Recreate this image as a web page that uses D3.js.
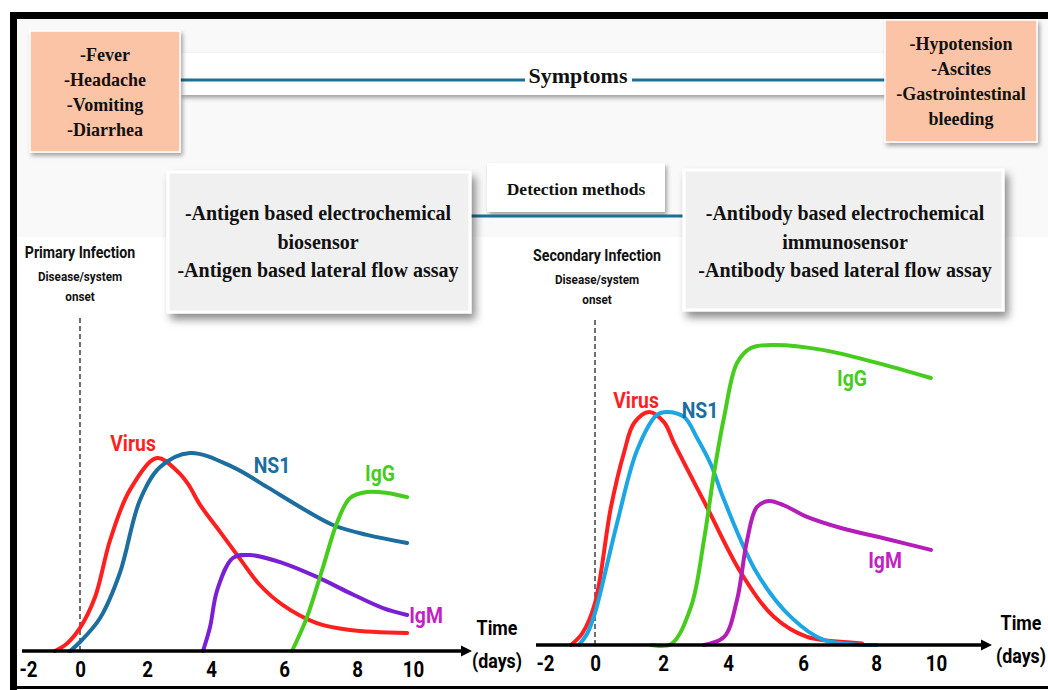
<!DOCTYPE html>
<html>
<head>
<meta charset="utf-8">
<script src="https://cdn.jsdelivr.net/npm/d3@7"></script>
<style>
  body { margin: 0; background: #fff; }
  svg { display: block; }
  .serif { font-family: 'Liberation Serif', 'Times New Roman', serif; font-weight: bold; fill: #111; }
  .narrow { font-family: Roboto, 'Noto Sans', sans-serif; font-weight: bold; }
</style>
</head>
<body>
<svg width="1048" height="690"></svg>
<script>
// ---- data (day, relative level 0-100) ----
let dayTicks = [-2, 0, 2, 4, 6, 8, 10];

let earlySymptoms = ["-Fever", "-Headache", "-Vomiting", "-Diarrhea"];
let lateSymptoms = ["-Hypotension", "-Ascites", "-Gastrointestinal", "bleeding"];
let antigenMethods = ["-Antigen based electrochemical", "biosensor", "-Antigen based lateral flow assay"];
let antibodyMethods = ["-Antibody based electrochemical", "immunosensor", "-Antibody based lateral flow assay"];

let primaryVirus = [[-0.96, 0], [-0.5, 2.5], [0, 7.7], [0.45, 18], [0.9, 37], [1.49, 53.7], [2.31, 64.3],
    [2.94, 60], [3.28, 55.7], [3.66, 48.7], [4.25, 39.7], [4.82, 30.3], [5.34, 22], [5.97, 15.3],
    [6.9, 9.3], [7.81, 7], [9.79, 6]];
let primaryNS1 = [[-0.38, 0], [0, 3], [0.6, 11], [1.19, 26], [1.79, 50.3], [2.41, 61.3], [3.34, 66],
    [4.6, 61.3], [5.53, 54.7], [6.44, 48], [7.34, 42], [8.36, 38.7], [9.79, 36]];
let primaryIgM = [[3.75, 0], [3.97, 8], [4.17, 20.3], [4.6, 31], [5.07, 32], [5.97, 29.3], [6.9, 24.7],
    [7.81, 19.3], [8.93, 14.3], [9.79, 12]];
let primaryIgG = [[6.22, 0], [6.63, 11.3], [7.07, 28], [7.45, 42.7], [7.81, 51], [8.36, 53], [9.07, 52.7], [9.79, 51.3]];

let secondaryVirus = [[-0.96, 0], [-0.5, 4], [0, 14], [0.47, 46], [0.85, 64], [1.15, 74], [1.59, 77.7],
    [2.03, 74.3], [2.34, 67.3], [3.35, 46], [4.35, 24], [5.23, 9.3], [6.11, 2.7], [7.48, 0.7], [7.62, 0.5]];
let secondaryNS1 = [[-0.64, 0], [-0.3, 4], [0, 10.7], [0.65, 40.7], [1.24, 65], [1.82, 76.7], [2.12, 77.7],
    [2.65, 76], [3.05, 69], [3.48, 60], [3.88, 48.3], [4.77, 24], [5.68, 9.3], [6.57, 1.7], [8.03, 0]];
let secondaryIgG = [[1.65, 0], [2.25, 0.3], [2.86, 12.7], [3.26, 35], [3.57, 57.3], [3.88, 76], [4.24, 94],
    [4.61, 99], [5.23, 100], [6.57, 98.3], [7.95, 94.3], [9.83, 89]];
let secondaryIgM = [[3.26, 0], [3.88, 2.7], [4.24, 15], [4.51, 35], [4.77, 46], [5.09, 48], [5.5, 46.5],
    [6.11, 42.7], [7.04, 39], [8.5, 35], [9.83, 31.7]];

// ---- drawing ----
let svg = d3.select("svg");

let defs = svg.append("defs");
let sh = defs.append("filter").attr("id", "shadow")
    .attr("x", "-10%").attr("y", "-10%").attr("width", "130%").attr("height", "140%");
sh.append("feDropShadow").attr("dx", 4).attr("dy", 6).attr("stdDeviation", 4)
    .attr("flood-color", "#000").attr("flood-opacity", 0.45);
let shs = defs.append("filter").attr("id", "shadowSmall")
    .attr("x", "-10%").attr("y", "-10%").attr("width", "130%").attr("height", "150%");
shs.append("feDropShadow").attr("dx", 2).attr("dy", 3).attr("stdDeviation", 2)
    .attr("flood-color", "#000").attr("flood-opacity", 0.35);

defs.append("marker").attr("id", "arrow")
    .attr("viewBox", "0 0 10 10").attr("refX", 1).attr("refY", 5)
    .attr("markerWidth", 3.2).attr("markerHeight", 3.2).attr("orient", "auto")
    .attr("markerUnits", "strokeWidth")
    .append("path").attr("d", "M0,0 L10,5 L0,10 z").attr("fill", "#000");

// background of the top band
svg.append("rect").attr("x", 17).attr("y", 19).attr("width", 1031).attr("height", 218).attr("fill", "#f9f9f9");

// frame
svg.append("rect").attr("x", 10).attr("y", 12).attr("width", 1038).attr("height", 7).attr("fill", "#000");
svg.append("rect").attr("x", 10).attr("y", 12).attr("width", 7).attr("height", 678).attr("fill", "#000");
svg.append("rect").attr("x", 10).attr("y", 686).attr("width", 1038).attr("height", 3).attr("fill", "#000");

// symptoms band
svg.append("rect").attr("x", 180).attr("y", 53).attr("width", 705).attr("height", 42)
    .attr("fill", "#fff").attr("filter", "url(#shadowSmall)");
svg.append("line").attr("x1", 180).attr("x2", 525).attr("y1", 80).attr("y2", 80)
    .attr("stroke", "#1f6e96").attr("stroke-width", 3);
svg.append("line").attr("x1", 632).attr("x2", 885).attr("y1", 80).attr("y2", 80)
    .attr("stroke", "#1f6e96").attr("stroke-width", 3);
svg.append("text").attr("class", "serif").attr("x", 578).attr("y", 83)
    .attr("text-anchor", "middle").attr("font-size", 22).text("Symptoms");

let textBlock = function (lines, cx, firstY, step, size) {
    svg.append("g").selectAll("text").data(lines).enter().append("text")
        .attr("class", "serif")
        .attr("x", cx)
        .attr("y", function (d, i) { return firstY + i * step; })
        .attr("text-anchor", "middle")
        .attr("font-size", size)
        .text(function (d) { return d; });
};

// narrow sans text, squeezed horizontally like the condensed face of the original
let narrowText = function (parent, txt, x, y, size, sx, color) {
    return parent.append("text").attr("class", "narrow")
        .attr("transform", "translate(" + x + "," + y + ") scale(" + sx + ",1)")
        .attr("text-anchor", "middle")
        .attr("font-size", size)
        .attr("fill", color)
        .text(txt);
};

// symptom boxes
svg.append("rect").attr("x", 30).attr("y", 31).attr("width", 150).attr("height", 121)
    .attr("fill", "#fcc4a7").attr("stroke", "#fff").attr("stroke-width", 1.5).attr("filter", "url(#shadowSmall)");
textBlock(earlySymptoms, 105, 61, 25, 18);
svg.append("rect").attr("x", 885).attr("y", 20).attr("width", 152).attr("height", 122)
    .attr("fill", "#fcc4a7").attr("stroke", "#fff").attr("stroke-width", 1.5).attr("filter", "url(#shadowSmall)");
textBlock(lateSymptoms, 961, 50, 25, 18);

// detection methods
svg.append("rect").attr("x", 487).attr("y", 163).attr("width", 178).attr("height", 49)
    .attr("fill", "#fff").attr("filter", "url(#shadowSmall)");
svg.append("line").attr("x1", 470).attr("x2", 684).attr("y1", 216).attr("y2", 216)
    .attr("stroke", "#1f6e96").attr("stroke-width", 3);
svg.append("text").attr("class", "serif").attr("x", 576).attr("y", 195)
    .attr("text-anchor", "middle").attr("font-size", 17.5).text("Detection methods");

// chart area background
svg.append("rect").attr("x", 17).attr("y", 237).attr("width", 1031).attr("height", 449).attr("fill", "#fff");

// method boxes
svg.append("rect").attr("x", 168).attr("y", 172).attr("width", 302).attr("height", 140)
    .attr("fill", "#f0f0f0").attr("stroke", "#fff").attr("stroke-width", 3).attr("filter", "url(#shadow)");
textBlock(antigenMethods, 318, 220, 28.5, 20);
svg.append("rect").attr("x", 684).attr("y", 170).attr("width", 319).attr("height", 140)
    .attr("fill", "#f0f0f0").attr("stroke", "#fff").attr("stroke-width", 3).attr("filter", "url(#shadow)");
textBlock(antibodyMethods, 845, 220, 28.5, 20);

// ---- the two infection panels ----
let panels = [
    {
        title: "Primary Infection", titleX: 80, titleY: 258,
        xr: [28, 80, 147, 211, 284, 357, 413], base: 651, top: 351,
        axisX: [22, 462], dashTop: 318, timeX: 497, timeY: 635,
        series: [
            {data: primaryVirus, color: "#ff1f1f"},
            {data: primaryNS1, color: "#1b6e9e"},
            {data: primaryIgM, color: "#7a1fd4"},
            {data: primaryIgG, color: "#46cc1c"}
        ],
        labels: [
            {text: "Virus", x: 133, y: 451, color: "#ff1f1f"},
            {text: "NS1", x: 272, y: 473, color: "#1b6e9e"},
            {text: "IgG", x: 380, y: 481, color: "#46cc1c"},
            {text: "IgM", x: 426, y: 623, color: "#c41fc4"}
        ]
    },
    {
        title: "Secondary Infection", titleX: 597, titleY: 261,
        xr: [545, 595, 663, 728, 803, 876, 936], base: 645, top: 345,
        axisX: [536, 982], dashTop: 320, timeX: 1021, timeY: 630,
        series: [
            {data: secondaryVirus, color: "#ff1f1f"},
            {data: secondaryNS1, color: "#1da6e4"},
            {data: secondaryIgG, color: "#46cc1c"},
            {data: secondaryIgM, color: "#b31eb8"}
        ],
        labels: [
            {text: "Virus", x: 636, y: 408, color: "#ff1f1f"},
            {text: "NS1", x: 700, y: 418, color: "#1b6e9e"},
            {text: "IgG", x: 852, y: 386, color: "#46cc1c"},
            {text: "IgM", x: 885, y: 568, color: "#c41fc4"}
        ]
    }
];

panels.forEach(function (p) {
    let x = d3.scaleLinear().domain(dayTicks).range(p.xr);
    let y = d3.scaleLinear().domain([0, 100]).range([p.base, p.top]);
    let g = svg.append("g");

    // headings
    narrowText(g, p.title, p.titleX, p.titleY, 16.5, 0.86, "#111");
    narrowText(g, "Disease/system", p.titleX, p.titleY + 23, 13, 0.9, "#111");
    narrowText(g, "onset", p.titleX, p.titleY + 43, 13, 0.9, "#111");

    // onset line
    g.append("line").attr("x1", x(0)).attr("x2", x(0)).attr("y1", p.dashTop).attr("y2", p.base)
        .attr("stroke", "#222").attr("stroke-width", 1.3).attr("stroke-dasharray", "5,3");

    // curves
    let line = d3.line()
        .x(function (d) { return x(d[0]); })
        .y(function (d) { return y(d[1]); })
        .curve(d3.curveCatmullRom.alpha(0.5));
    g.selectAll(".curve").data(p.series).enter().append("path")
        .attr("class", "curve")
        .attr("d", function (d) { return line(d.data); })
        .attr("fill", "none")
        .attr("stroke", function (d) { return d.color; })
        .attr("stroke-width", 4)
        .attr("stroke-linecap", "round");

    // time axis with arrow
    g.append("line").attr("x1", p.axisX[0]).attr("x2", p.axisX[1]).attr("y1", p.base).attr("y2", p.base)
        .attr("stroke", "#000").attr("stroke-width", 3.5).attr("marker-end", "url(#arrow)");
    let ax = g.append("g").attr("transform", "translate(0," + p.base + ")")
        .call(d3.axisBottom(x).tickValues(dayTicks).tickSize(0).tickPadding(10)
            .tickFormat(function (d) { return String(d); }));
    ax.select(".domain").remove();
    ax.selectAll("text").attr("class", "narrow").attr("font-size", 22).attr("fill", "#000")
        .attr("transform", "scale(0.85,1)");

    narrowText(g, "Time", p.timeX, p.timeY, 21, 0.85, "#000");
    narrowText(g, "(days)", p.timeX, p.timeY + 33, 21, 0.85, "#000");

    // series labels
    p.labels.forEach(function (d) {
        narrowText(g, d.text, d.x, d.y, 22, 0.88, d.color);
    });
});
</script>
</body>
</html>
